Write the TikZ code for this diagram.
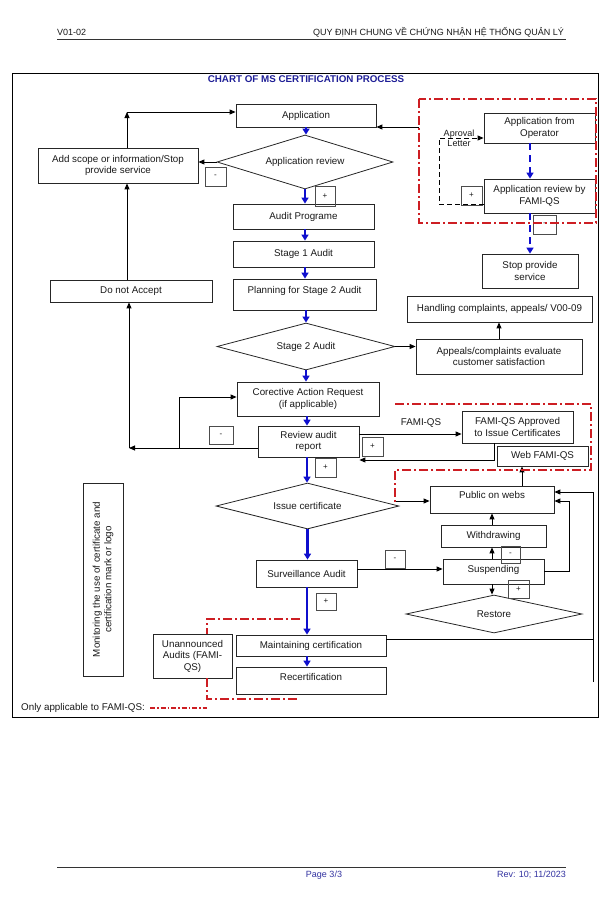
\documentclass[tikz,border=0pt]{standalone}
\usepackage{fontspec}
\setmainfont{Liberation Sans}
\usetikzlibrary{shapes.geometric,arrows.meta,calc}
\definecolor{arrblue}{RGB}{15,15,205}
\definecolor{titleblue}{RGB}{30,30,150}
\definecolor{footblue}{RGB}{50,50,160}
\definecolor{redd}{RGB}{205,30,35}
\begin{document}
\begin{tikzpicture}[x=1pt,y=-1pt,
  every node/.style={font=\fontsize{9.8}{11.5}\selectfont, text=black!90},
  box/.style 2 args={draw=black!85, line width=0.8pt, align=center, inner sep=1pt, minimum width=#1, minimum height=#2},
  dia/.style n args={3}{draw=black!85, line width=0.8pt, shape=diamond, align=center, inner sep=0pt, minimum width=#1, minimum height=#2, shape aspect=#3},
  sign/.style 2 args={draw=black!70, line width=0.8pt, inner sep=0pt, minimum width=#1, minimum height=#2, font=\fontsize{8}{9}\selectfont},
  bluearr/.style={draw=arrblue, line width=2.2pt, -{Triangle[length=6pt,width=7pt]}},
  bluedash/.style={draw=arrblue, line width=2.4pt, dash pattern=on 7pt off 5pt, -{Triangle[length=6pt,width=7pt]}},
  arr/.style={draw=black, line width=0.9pt, -{Triangle[length=6pt,width=5pt]}},
  plain/.style={draw=black, line width=0.9pt},
  redline/.style={draw=redd, line width=1.2pt, dash pattern=on 9pt off 3pt on 2pt off 3pt},
  txt/.style={inner sep=0pt, align=center}
]
\useasboundingbox (0,0) rectangle (611,899);

% header and footer
\node[txt, anchor=west, font=\fontsize{9}{10}\selectfont] (hl) at (57,32) {V01-02};
\node[txt, anchor=east, font=\fontsize{9}{10}\selectfont] (hr) at (564,32) {QUY ĐỊNH CHUNG VỀ CHỨNG NHẬN HỆ THỐNG QUẢN LÝ};
\draw[line width=0.8pt, black!80] (57,39) -- (566,39);
\draw[line width=0.8pt, black!80] (57,867) -- (566,867);
\node[txt, text=footblue, font=\fontsize{9}{10}\selectfont] (pg) at (324,875) {Page 3/3};
\node[txt, anchor=east, text=footblue, font=\fontsize{9}{10}\selectfont] (rev) at (566,875) {Rev: 10; 11/2023};

% frame and title
\draw[line width=0.9pt, black] (12,73) rectangle (598,717);
\node[txt, text=titleblue, font=\fontsize{9.8}{11}\selectfont\bfseries] (title) at (306,79) {CHART OF MS CERTIFICATION PROCESS};

% main column
\node[box={140}{23}] (app) at (306,115.5) {Application};
\node[dia={176}{54}{3.26}] (appreview) at (305,162) {Application review};
\node[box={160}{35}] (addscope) at (118,165.5) {Add scope or information/Stop\\provide service};
\node[box={162}{22}] (donot) at (131,291) {Do not Accept};
\node[box={141}{25}] (auditprog) at (303.5,216.5) {Audit Programe};
\node[box={141}{26}] (stage1) at (303.5,254) {Stage 1 Audit};
\node[box={143}{31}, text depth=9.5pt] (planning) at (304.5,294.5) {Planning for Stage 2 Audit};
\node[dia={178}{47}{3.79}] (stage2) at (306,346.5) {Stage 2 Audit};
\node[box={142}{34}] (corrective) at (308,399) {Corective Action Request\\(if applicable)};
\node[box={101}{31}] (review) at (308.5,441.5) {Review audit\\report};
\node[dia={183}{46}{3.98}] (issue) at (307.5,506) {Issue certificate};
\node[box={101}{27}] (surv) at (306.5,573.5) {Surveillance Audit};
\node[box={150}{21}] (maint) at (311,645.5) {Maintaining certification};
\node[box={150}{27}, text depth=7.5pt] (recert) at (311,680.5) {Recertification};
\node[box={79}{44}] (unann) at (192.5,656) {Unannounced\\Audits (FAMI-\\QS)};
\node[box={40}{193}] (monitor) at (103,579.5) {};
\node[txt, rotate=90] (montext) at (103,579.5) {Monitoring the use of certificate and\\certification mark or logo};

% right column
\node[box={111}{30}] (operator) at (539.5,128) {Application from\\Operator};
\node[box={111}{34}] (reviewfq) at (539.5,196) {Application review by\\FAMI-QS};
\node[box={96}{34}] (stop) at (530,271) {Stop provide\\service};
\node[box={185}{26}] (handling) at (499.5,309) {Handling complaints, appeals/ V00-09};
\node[box={166}{35}] (appeals) at (499,356.5) {Appeals/complaints evaluate\\customer satisfaction};
\node[box={111}{32}] (famiapp) at (517.5,427) {FAMI-QS Approved\\to Issue Certificates};
\node[box={91}{20}] (webfq) at (542.5,456) {Web FAMI-QS};
\node[box={124}{27}, text depth=8.5pt] (public) at (492,499.5) {Public on webs};
\node[box={105}{22}] (withdraw) at (493.5,536) {Withdrawing};
\node[box={101}{25}, text depth=5.5pt] (susp) at (493.5,571.5) {Suspending};
\node[dia={176}{38}{4.63}] (restore) at (494,614) {Restore};

% sign boxes
\node[sign={21}{19}] (m1) at (215.5,176.5) {-};
\node[sign={20}{20}] (p1) at (325,196) {+};
\node[sign={21}{19}] (p2) at (471.5,195.5) {+};
\node[sign={23}{19}] (m2) at (544.5,224.5) {-};
\node[sign={24}{18}] (m3) at (221,435) {-};
\node[sign={21}{19}] (p3) at (372.5,446.5) {+};
\node[sign={21}{19}] (p4) at (325.5,467.5) {+};
\node[sign={20}{18}] (m4) at (395,559) {-};
\node[sign={19}{17}] (m5) at (510.5,554.5) {-};
\node[sign={21}{18}] (p5) at (518.5,589) {+};
\node[sign={20}{17}] (p6) at (326,601.5) {+};

% blue main flow
\draw[bluearr] (app.south) -- (app.south |- appreview.north);
\draw[bluearr] (appreview.south) -- (appreview.south |- auditprog.north);
\draw[bluearr] (auditprog.south -| appreview.south) -- (appreview.south |- stage1.north);
\draw[bluearr] (stage1.south -| appreview.south) -- (appreview.south |- planning.north);
\draw[bluearr] (planning.south -| stage2.north) -- (stage2.north);
\draw[bluearr] (stage2.south) -- (stage2.south |- corrective.north);
\draw[bluearr] (corrective.south -| 307,0) -- (307,0 |- review.north);
\draw[bluearr] (review.south -| 307,0) -- (307,0 |- issue.north);
\draw[bluearr] (issue.south) -- (issue.south |- surv.north);
\draw[bluearr] (surv.south -| 307,0) -- (307,0 |- maint.north);
\draw[bluearr] (maint.south -| 307,0) -- (307,0 |- recert.north);

% blue dashed FAMI-QS flow
\draw[bluedash] (operator.south -| stop.north) -- (reviewfq.north -| stop.north);
\draw[bluedash] (reviewfq.south -| stop.north) -- (stop.north);

% black connectors left side
\coordinate (c1) at (127,112);
\draw[arr] (appreview.west) -- (appreview.west -| addscope.east);
\draw[arr] (addscope.north -| c1) -- (c1);
\draw[arr] (c1) -- (c1 -| app.west);
\draw[arr] (c1 |- donot.north) -- (c1 |- addscope.south);
\coordinate (c2) at (129,448);
\coordinate (c3) at (179,448);
\coordinate (c4) at (179,397);
\draw[arr] (review.west |- c2) -- (c2);
\draw[arr] (c2) -- (c2 |- donot.south);
\draw[arr] (c3) -- (c4) -- (c4 -| corrective.west);

% appeals
\draw[arr] (stage2.east) -- (stage2.east -| appeals.west);
\draw[arr] (appeals.north) -- (appeals.north |- handling.south);

% FAMI-QS top region
\coordinate (r1) at (419,127);
\draw[arr] (r1) -- (r1 -| app.east);
\coordinate (d1) at (439,204);
\coordinate (d2) at (439,138);
\draw[arr, dash pattern=on 5pt off 3pt] (reviewfq.west |- d1) -- (d1) -- (d2) -- (d2 -| operator.west);
\node[txt, font=\fontsize{9}{10.5}\selectfont] (aproval) at (459,138.5) {Aproval\\Letter};

% FAMI-QS approval
\coordinate (f1) at (359,434);
\draw[arr] (f1) -- (f1 -| famiapp.west);
\node[txt] (familabel) at (421,423) {FAMI-QS};
\coordinate (f2) at (494,460);
\draw[arr] (famiapp.south -| f2) -- (f2) -- (f2 -| review.east);

% publication and suspension
\coordinate (i1) at (396,501);
\draw[arr] (i1) -- (i1 -| public.west);
\draw[arr] (public.north -| 522,0) -- (522,0 |- webfq.south);
\draw[arr] (withdraw.north -| 492,0) -- (492,0 |- public.south);
\draw[arr] (susp.north -| 492,0) -- (492,0 |- withdraw.south);
\draw[arr] (susp.south -| 492,0) -- (492,0 |- restore.north);
\coordinate (s1) at (357,569);
\draw[arr] (s1) -- (s1 -| susp.west);
\coordinate (e1) at (569,571);
\coordinate (e2) at (569,501);
\draw[arr] (susp.east |- e1) -- (e1) -- (e2) -- (e2 -| public.east);
\coordinate (g1) at (593,639);
\coordinate (g2) at (593,682);
\coordinate (g3) at (593,492);
\draw[plain] (maint.east |- g1) -- (g1);
\draw[arr] (g2) -- (g3) -- (g3 -| public.east);

% red dash-dot regions
\draw[redline] (419,99) rectangle (596,223);
\draw[redline] (395,404) -- (591,404) -- (591,470) -- (395,470) -- (395,502);
\draw[redline] (300,619) -- (207,619) -- (207 ,0 |- unann.north);
\draw[redline] (207,0 |- unann.south) -- (207,699) -- (300,699);

% legend
\node[txt, anchor=west] (legend) at (21,708) {Only applicable to FAMI-QS:};
\draw[draw=redd, line width=1.6pt, dash pattern=on 5pt off 2pt on 1.5pt off 2pt] (150,708) -- (207,708);
\end{tikzpicture}
\end{document}
